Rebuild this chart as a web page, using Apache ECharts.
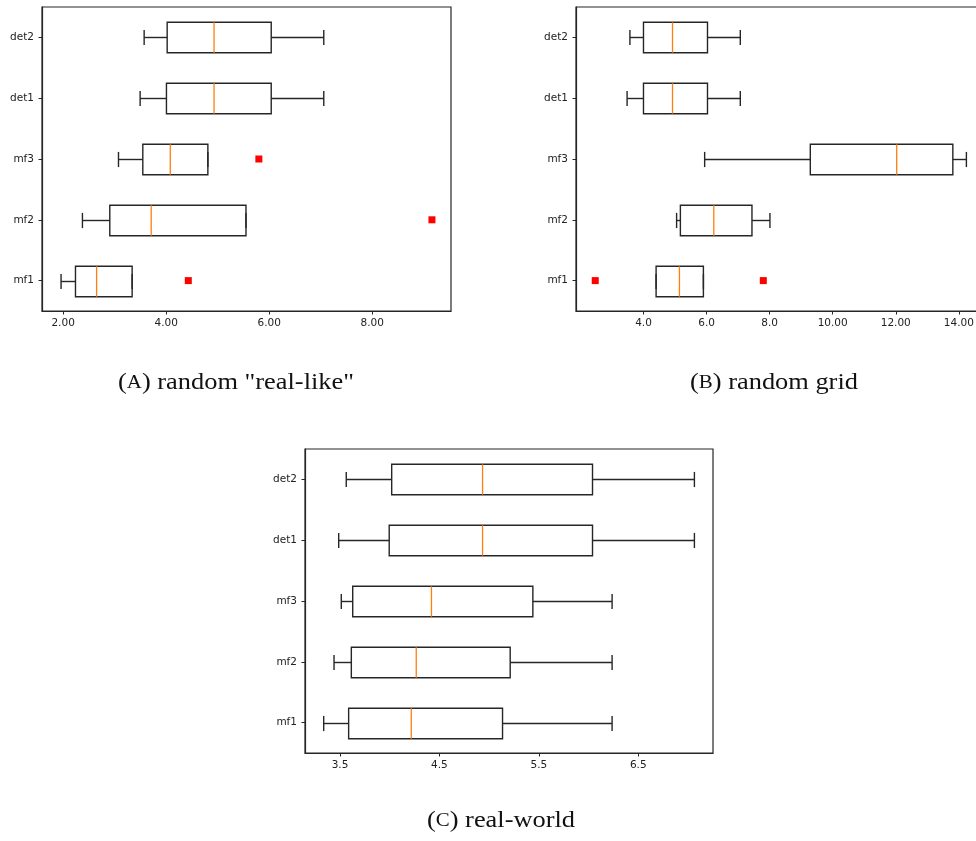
<!DOCTYPE html>
<html>
<head>
<meta charset="utf-8">
<script src="https://cdn.jsdelivr.net/npm/echarts@6/dist/echarts.min.js"></script>
<style>
html,body{margin:0;padding:0;overflow:hidden;background:#fff;width:976px;height:841px;}
#c{width:1000px;height:841px;}
</style>
</head>
<body>
<div id="c"></div>
<script>
// categories (bottom to top)
const categories = ['mf1', 'mf2', 'mf3', 'det1', 'det2'];

// box stats per category: [low whisker, Q1, median, Q3, high whisker]
const boxesA = [
  [1.96, 2.24, 2.65, 3.34, 3.34],
  [2.375, 2.906, 3.71, 5.55, 5.55],
  [3.075, 3.547, 4.08, 4.81, 4.81],
  [3.495, 4.006, 4.93, 6.04, 7.06],
  [3.573, 4.02, 4.93, 6.04, 7.06]
];
const outliersA = [[4.43, 'mf1'], [9.16, 'mf2'], [5.80, 'mf3']];

const boxesB = [
  [4.40, 4.40, 5.14, 5.90, 5.90],
  [5.05, 5.17, 6.23, 7.44, 8.01],
  [5.94, 9.29, 12.03, 13.81, 14.24],
  [3.48, 4.00, 4.92, 6.03, 7.07],
  [3.57, 4.00, 4.92, 6.03, 7.07]
];
const outliersB = [[2.47, 'mf1'], [7.80, 'mf1']];

const boxesC = [
  [3.336, 3.587, 4.217, 5.135, 6.237],
  [3.44, 3.614, 4.267, 5.212, 6.237],
  [3.513, 3.628, 4.42, 5.44, 6.237],
  [3.487, 3.995, 4.934, 6.04, 7.065],
  [3.563, 4.02, 4.934, 6.04, 7.065]
];
const outliersC = [];

// axis ranges and ticks
const rangeA = [1.59, 9.53];
const ticksA = [2, 4, 6, 8];
const tickLabelsA = ['2.00', '4.00', '6.00', '8.00'];
const rangeB = [1.86, 14.83];
const ticksB = [4, 6, 8, 10, 12, 14];
const tickLabelsB = ['4.0', '6.0', '8.0', '10.00', '12.00', '14.00'];
const rangeC = [3.148, 7.252];
const ticksC = [3.5, 4.5, 5.5, 6.5];
const tickLabelsC = ['3.5', '4.5', '5.5', '6.5'];

const captionA = ['A', ' random "real-like"'];
const captionB = ['B', ' random grid'];
const captionC = ['C', ' real-world'];

const INK = '#262626';
const ORANGE = '#ff7f0e';
const labelFont = {fontFamily: 'DejaVu Sans', fontSize: 10.5, color: '#222'};

function renderBox(params, api) {
  const yi = api.value(0);
  const lo = api.coord([api.value(1), yi]);
  const q1 = api.coord([api.value(2), yi]);
  const md = api.coord([api.value(3), yi]);
  const q3 = api.coord([api.value(4), yi]);
  const hi = api.coord([api.value(5), yi]);
  const band = api.size([0, 1])[1];
  const h = band * 0.5, ch = band * 0.25;
  const y = Math.round(lo[1]) + 0.5;
  const ls = {stroke: INK, lineWidth: 1.4, fill: null};
  return {
    type: 'group',
    children: [
      {type: 'line', shape: {x1: lo[0], y1: y, x2: q1[0], y2: y}, style: ls},
      {type: 'line', shape: {x1: q3[0], y1: y, x2: hi[0], y2: y}, style: ls},
      {type: 'line', shape: {x1: lo[0], y1: y - ch / 2, x2: lo[0], y2: y + ch / 2}, style: ls},
      {type: 'line', shape: {x1: hi[0], y1: y - ch / 2, x2: hi[0], y2: y + ch / 2}, style: ls},
      {type: 'rect', shape: {x: q1[0], y: y - h / 2, width: q3[0] - q1[0], height: h}, style: ls},
      {type: 'line', shape: {x1: md[0], y1: y - h / 2, x2: md[0], y2: y + h / 2}, style: {stroke: ORANGE, lineWidth: 1.3}}
    ]
  };
}

function boxData(boxes) {
  return boxes.map((b, i) => [i].concat(b));
}
function outData(outs) {
  return outs.map(o => [o[0], categories.indexOf(o[1])]);
}

const grids = [
  {left: 42, top: 7, width: 409, height: 304},
  {left: 576, top: 7, width: 409, height: 304},
  {left: 305, top: 449, width: 408, height: 304}
].map(g => Object.assign(g, {show: true, borderColor: INK, borderWidth: 1.2, backgroundColor: 'transparent', containLabel: false}));

function xAxis(gi, range, ticks, labels) {
  return {
    type: 'value', gridIndex: gi, min: range[0], max: range[1],
    splitLine: {show: false},
    axisLine: {show: true, lineStyle: {color: INK, width: 1.2}},
    axisTick: {show: true, length: 3.5, lineStyle: {color: INK}, customValues: ticks},
    axisLabel: Object.assign({margin: 7, customValues: ticks,
      formatter: v => { const k = ticks.findIndex(t => Math.abs(t - v) < 1e-9); return k >= 0 ? labels[k] : ''; }}, labelFont)
  };
}
function yAxis(gi) {
  return {
    type: 'category', gridIndex: gi, data: categories,
    axisLine: {show: true, lineStyle: {color: INK, width: 1.2}},
    axisTick: {show: true, alignWithLabel: true, length: 3.5, lineStyle: {color: INK}},
    axisLabel: Object.assign({margin: 8}, labelFont),
    splitLine: {show: false}
  };
}

const sets = [[boxesA, outliersA], [boxesB, outliersB], [boxesC, outliersC]];
const series = [];
sets.forEach((s, i) => {
  series.push({
    type: 'custom', xAxisIndex: i, yAxisIndex: i, renderItem: renderBox,
    encode: {x: [1, 2, 3, 4, 5], y: 0}, data: boxData(s[0]), clip: false, silent: true
  });
  series.push({
    type: 'scatter', xAxisIndex: i, yAxisIndex: i, symbol: 'rect', symbolSize: 7,
    itemStyle: {color: '#ff0000', opacity: 1}, data: outData(s[1]), silent: true
  });
});

function caption(parts, x, y) {
  return {
    type: 'text', x: x, y: y, scaleX: 1.1,
    style: {
      text: '({sc|' + parts[0] + '})' + parts[1],
      font: '24px "Liberation Serif"',
      fill: '#111',
      align: 'center', verticalAlign: 'middle',
      rich: {sc: {fontSize: 19, fontFamily: 'Liberation Serif', fill: '#111'}}
    }
  };
}

const chart = echarts.init(document.getElementById('c'), null, {renderer: 'canvas'});
chart.setOption({
  animation: false,
  backgroundColor: '#fff',
  grid: grids,
  xAxis: [xAxis(0, rangeA, ticksA, tickLabelsA), xAxis(1, rangeB, ticksB, tickLabelsB), xAxis(2, rangeC, ticksC, tickLabelsC)],
  yAxis: [yAxis(0), yAxis(1), yAxis(2)],
  series: series,
  graphic: [caption(captionA, 236, 383), caption(captionB, 774, 383), caption(captionC, 501, 821)]
});
</script>
</body>
</html>
